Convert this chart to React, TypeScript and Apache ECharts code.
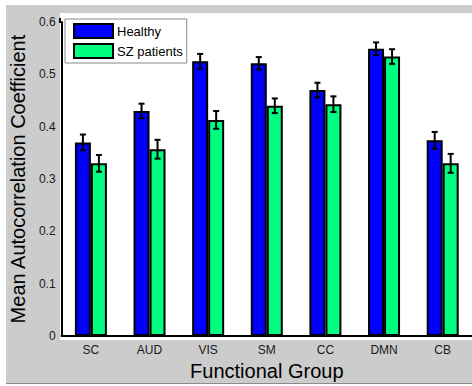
import React, { useEffect, useRef } from "react";
import * as echarts from "echarts";

const categories = ["SC", "AUD", "VIS", "SM", "CC", "DMN", "CB"];
const healthy = [0.370, 0.430, 0.525, 0.521, 0.470, 0.549, 0.374];
const healthyErr = [0.015, 0.014, 0.014, 0.012, 0.014, 0.012, 0.016];
const sz = [0.330, 0.357, 0.413, 0.440, 0.443, 0.534, 0.330];
const szErr = [0.016, 0.018, 0.017, 0.014, 0.015, 0.014, 0.018];
const yTicks = [0, 0.1, 0.2, 0.3, 0.4, 0.5, 0.6];

const FONT = "Liberation Sans, Arial, Helvetica, sans-serif";
const BAR_W = 16;

function errSeries(vals: number[], errs: number[], offset: number) {
  return {
    type: "custom",
    silent: true,
    z: 10,
    data: vals.map((v, i) => [i, v, errs[i]]),
    renderItem: (params: any, api: any) => {
      const i = api.value(0);
      const v = api.value(1);
      const e = api.value(2);
      const top = api.coord([i, v + e]);
      const bot = api.coord([i, v - e]);
      const x = top[0] + offset;
      const cap = 3;
      const style = { stroke: "#000", lineWidth: 2 };
      return {
        type: "group",
        children: [
          { type: "line", shape: { x1: x, y1: top[1], x2: x, y2: bot[1] }, style },
          { type: "line", shape: { x1: x - cap, y1: top[1], x2: x + cap, y2: top[1] }, style },
          { type: "line", shape: { x1: x - cap, y1: bot[1], x2: x + cap, y2: bot[1] }, style },
        ],
      };
    },
  };
}

export default function App() {
  const ref = useRef<HTMLDivElement>(null);
  useEffect(() => {
    document.body.style.margin = "0";
    const chart = echarts.init(ref.current!, null, { renderer: "svg" });
    chart.setOption({
      animation: false,
      backgroundColor: "#ffffff",
      textStyle: { fontFamily: FONT },
      graphic: [
        { type: "rect", z: -10, shape: { x: 6, y: 5, width: 466, height: 378 }, style: { fill: "#cccccc" } },
        { type: "line", z: -10, shape: { x1: 6, y1: 383.5, x2: 472, y2: 383.5 }, style: { stroke: "#8c8c8c", lineWidth: 1 } },
        { type: "rect", z: -9, shape: { x: 60, y: 13, width: 412, height: 327 }, style: { fill: "#ffffff" } },
        { type: "line", z: 5, shape: { x1: 60, y1: 18, x2: 60, y2: 23 }, style: { stroke: "#000", lineWidth: 2 } },
      ],
      legend: {
        orient: "vertical",
        left: 65,
        top: 19,
        icon: "rect",
        itemWidth: 39,
        itemHeight: 14,
        itemGap: 4,
        padding: [4, 4, 4, 8],
        backgroundColor: "#ffffff",
        borderColor: "#8a8a8a",
        borderWidth: 1,
        borderRadius: 0,
        textStyle: { fontFamily: FONT, fontSize: 13, color: "#000", padding: [0, 0, 0, -1] },
        data: ["Healthy", "SZ patients"],
      },
      grid: { left: 60, right: 0, top: 22, bottom: 46 },
      xAxis: {
        type: "category",
        data: categories,
        axisLine: { lineStyle: { color: "#000", width: 2 } },
        axisTick: { show: false },
        axisLabel: { color: "#1a1a1a", fontSize: 12, margin: 8, fontFamily: FONT },
        name: "Functional Group",
        nameLocation: "middle",
        nameGap: 23,
        nameTextStyle: { color: "#000", fontSize: 20, fontFamily: FONT },
      },
      yAxis: {
        type: "value",
        min: 0,
        max: 0.6,
        interval: 0.1,
        axisLine: { show: true, lineStyle: { color: "#000", width: 2 } },
        axisTick: { show: false },
        splitLine: { show: false },
        axisLabel: {
          color: "#1a1a1a",
          fontSize: 12,
          margin: 6,
          fontFamily: FONT,
          formatter: (v: number) => {
            const t = yTicks.find((x) => Math.abs(x - v) < 1e-9);
            return t === 0 ? "0" : String(t ?? v);
          },
        },
        name: "Mean Autocorrelation Coefficient",
        nameLocation: "middle",
        nameGap: 28,
        nameRotate: 90,
        nameTextStyle: { color: "#000", fontSize: 20, fontFamily: FONT },
      },
      series: [
        {
          name: "Healthy",
          type: "bar",
          data: healthy,
          barWidth: BAR_W,
          barGap: "0%",
          itemStyle: { color: "#0000ff", borderColor: "#000", borderWidth: 2 },
        },
        {
          name: "SZ patients",
          type: "bar",
          data: sz,
          barWidth: BAR_W,
          barGap: "0%",
          itemStyle: { color: "#00ff80", borderColor: "#000", borderWidth: 2 },
        },
        errSeries(healthy, healthyErr, -BAR_W / 2),
        errSeries(sz, szErr, BAR_W / 2),
      ],
    });
    return () => chart.dispose();
  }, []);
  return <div ref={ref} style={{ width: 472, height: 386 }} />;
}
